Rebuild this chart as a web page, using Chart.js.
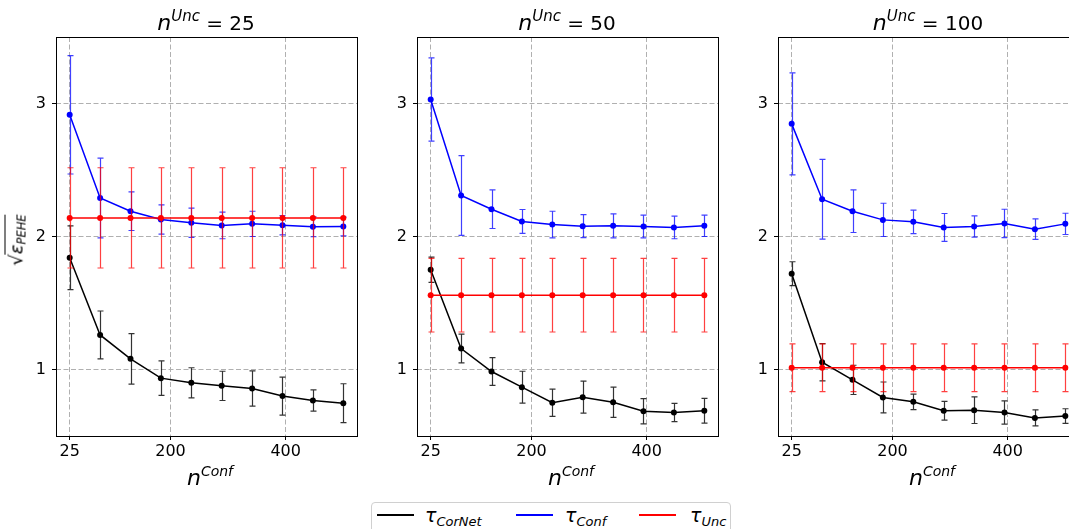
<!DOCTYPE html>
<html>
<head>
<meta charset="utf-8">
<script src="https://cdn.jsdelivr.net/npm/chart.js@4.4.0/dist/chart.umd.min.js"></script>
<style>
  body { margin: 0; width: 1069px; height: 529px; overflow: hidden; background: #fff; position: relative;
         font-family: "DejaVu Sans", sans-serif; color: #000; }
  canvas { position: absolute; top: 30px; }
  .lbl { position: absolute; white-space: nowrap; transform: translateX(-50%); font-size: 20px; line-height: 24px; }
  .lbl i { font-style: oblique; font-size: 22px; }
  .leg i { font-style: oblique; }
  .sup { font-size: 15px; font-style: oblique; position: relative; top: -9px; }
  .sub { font-size: 13px; font-style: oblique; position: relative; top: 4px; }
  .legend { position: absolute; left: 371px; top: 502px; width: 358px; height: 40px;
            border: 1px solid #d0d0d0; border-radius: 4px; background: #fff; }
  .leg { position: absolute; top: 504px; font-size: 19px; line-height: 22px; white-space: nowrap; }
  .swatch { position: absolute; top: 514px; height: 2px; width: 37px; }
  .ylab { position: absolute; left: 16px; top: 240px; transform: translate(-50%, -50%) rotate(-90deg);
          font-size: 18px; white-space: nowrap; }
  .ylab .ov { border-top: 1px solid #000; padding-top: 0px; }
  .ylab i { font-style: oblique; }
</style>
</head>
<body>
<canvas id="p25" width="336" height="436" style="left:26px"></canvas>
<canvas id="p50" width="336" height="436" style="left:387px"></canvas>
<canvas id="p100" width="336" height="436" style="left:748px"></canvas>

<div class="lbl" style="left:206px;top:11px"><i>n</i><span class="sup">Unc</span> = 25</div>
<div class="lbl" style="left:567px;top:11px"><i>n</i><span class="sup">Unc</span> = 50</div>
<div class="lbl" style="left:928px;top:11px"><i>n</i><span class="sup">Unc</span> = 100</div>

<div class="lbl" style="left:210px;top:466px"><i>n</i><span class="sup" style="font-size:14px">Conf</span></div>
<div class="lbl" style="left:571px;top:466px"><i>n</i><span class="sup" style="font-size:14px">Conf</span></div>
<div class="lbl" style="left:932px;top:466px"><i>n</i><span class="sup" style="font-size:14px">Conf</span></div>

<div class="ylab">&radic;<span class="ov"><i>ε</i><span class="sub" style="font-size:11.5px;top:3px">PEHE</span></span></div>

<div class="legend"></div>
<div class="swatch" style="left:377px;background:#000"></div>
<div class="leg" style="left:425px"><i>τ</i><span class="sub">CorNet</span></div>
<div class="swatch" style="left:516px;background:#0000ff"></div>
<div class="leg" style="left:565px"><i>τ</i><span class="sub">Conf</span></div>
<div class="swatch" style="left:639px;background:#ff0000"></div>
<div class="leg" style="left:690px"><i>τ</i><span class="sub">Unc</span></div>

<script>
// x positions (n^Conf)
const nConf = [25, 77.8, 130.6, 183.3, 236.1, 288.9, 341.7, 394.4, 447.2, 500];
const xTicks = [25, 200, 400];
const yTicks = [1, 2, 3];

// n^Unc = 25
const corNet25 = [1.84, 1.26, 1.08, 0.935, 0.90, 0.877, 0.857, 0.80, 0.767, 0.747];
const corNet25Err = [0.24, 0.18, 0.19, 0.13, 0.113, 0.11, 0.133, 0.143, 0.08, 0.146];
const conf25 = [2.915, 2.29, 2.19, 2.128, 2.103, 2.083, 2.095, 2.085, 2.073, 2.075];
const conf25Err = [0.445, 0.30, 0.145, 0.11, 0.11, 0.10, 0.095, 0.073, 0.075, 0.07];
const unc25 = [2.14, 2.14, 2.14, 2.14, 2.14, 2.14, 2.14, 2.14, 2.14, 2.14];
const unc25Err = [0.377, 0.377, 0.377, 0.377, 0.377, 0.377, 0.377, 0.377, 0.377, 0.377];

// n^Unc = 50
const corNet50 = [1.75, 1.158, 0.985, 0.867, 0.75, 0.792, 0.754, 0.686, 0.677, 0.69];
const corNet50Err = [0.095, 0.108, 0.105, 0.12, 0.103, 0.12, 0.114, 0.095, 0.069, 0.093];
const conf50 = [3.03, 2.308, 2.205, 2.113, 2.09, 2.078, 2.08, 2.075, 2.068, 2.08];
const conf50Err = [0.313, 0.30, 0.145, 0.09, 0.10, 0.087, 0.09, 0.085, 0.085, 0.08];
const unc50 = [1.559, 1.559, 1.559, 1.559, 1.559, 1.559, 1.559, 1.559, 1.559, 1.559];
const unc50Err = [0.277, 0.277, 0.277, 0.277, 0.277, 0.277, 0.277, 0.277, 0.277, 0.277];

// n^Unc = 100
const corNet100 = [1.72, 1.055, 0.922, 0.79, 0.757, 0.69, 0.694, 0.677, 0.636, 0.65];
const corNet100Err = [0.09, 0.14, 0.11, 0.116, 0.058, 0.07, 0.10, 0.087, 0.06, 0.055];
const conf100 = [2.847, 2.28, 2.19, 2.125, 2.11, 2.068, 2.075, 2.098, 2.055, 2.095];
const conf100Err = [0.383, 0.30, 0.16, 0.125, 0.088, 0.105, 0.08, 0.107, 0.077, 0.08];
const unc100 = [1.013, 1.013, 1.013, 1.013, 1.013, 1.013, 1.013, 1.013, 1.013, 1.013];
const unc100Err = [0.18, 0.18, 0.18, 0.18, 0.18, 0.18, 0.18, 0.18, 0.18, 0.18];

const FONT = '"DejaVu Sans", sans-serif';

// vertical error bars with caps, drawn just under each dataset's line
const errorBars = {
  id: 'errorBars',
  beforeDatasetDraw(chart, args) {
    const ds = chart.data.datasets[args.index];
    if (!ds.errors) return;
    const xs = chart.scales.x, ys = chart.scales.y, ctx = chart.ctx;
    ctx.save();
    ctx.strokeStyle = ds.errorColor;
    ctx.lineWidth = 1.2;
    ds.data.forEach((p, i) => {
      const px = Math.round(xs.getPixelForValue(p.x)) + 0.5;
      const top = ys.getPixelForValue(p.y + ds.errors[i]);
      const bot = ys.getPixelForValue(p.y - ds.errors[i]);
      ctx.beginPath();
      ctx.moveTo(px, top); ctx.lineTo(px, bot);
      ctx.moveTo(px - 3, top); ctx.lineTo(px + 3, top);
      ctx.moveTo(px - 3, bot); ctx.lineTo(px + 3, bot);
      ctx.stroke();
    });
    ctx.restore();
  }
};

const frame = {
  id: 'frame',
  afterDraw(chart) {
    const { left, top, right, bottom } = chart.chartArea;
    const ctx = chart.ctx;
    ctx.save();
    ctx.strokeStyle = '#000';
    ctx.lineWidth = 1;
    ctx.strokeRect(Math.round(left) + 0.5, Math.round(top) + 0.5, Math.round(right - left), Math.round(bottom - top));
    ctx.restore();
  }
};

function series(label, ys, errs, color, errColor, order) {
  return {
    label,
    data: nConf.map((x, i) => ({ x, y: ys[i] })),
    errors: errs,
    errorColor: errColor,
    borderColor: color,
    backgroundColor: color,
    borderWidth: 1.5,
    pointRadius: 3,
    pointBorderWidth: 0,
    tension: 0,
    order
  };
}

const gridOpts = { color: '#b0b0b0', lineWidth: 1, tickLength: 4,
                   tickColor: '#000', tickBorderDash: [], tickWidth: 1 };

function makePanel(id, corNet, corNetErr, conf, confErr, unc, uncErr) {
  new Chart(document.getElementById(id), {
    type: 'line',
    data: {
      datasets: [
        series('τ_CorNet', corNet, corNetErr, '#000000', 'rgba(0,0,0,0.8)', 3),
        series('τ_Conf', conf, confErr, '#0000ff', 'rgba(0,0,255,0.75)', 2),
        series('τ_Unc', unc, uncErr, '#ff0000', 'rgba(255,0,0,0.75)', 1)
      ]
    },
    options: {
      responsive: false,
      animation: false,
      events: [],
      layout: { padding: { left: 0, top: 7, right: 5, bottom: 0 } },
      plugins: { legend: { display: false }, tooltip: { enabled: false } },
      scales: {
        x: {
          type: 'linear',
          min: 1.25,
          max: 523.75,
          afterBuildTicks: s => { s.ticks = xTicks.map(v => ({ value: v })); },
          afterFit: s => { s.height = 30; s.paddingLeft = 0; s.paddingRight = 0; },
          grid: gridOpts,
          border: { display: false, dash: [5, 2.5] },
          ticks: { color: '#000', font: { family: FONT, size: 16 }, padding: 2, maxRotation: 0 }
        },
        y: {
          min: 0.5,
          max: 3.5,
          afterBuildTicks: s => { s.ticks = yTicks.map(v => ({ value: v })); },
          afterFit: s => { s.width = 30; s.paddingTop = 0; s.paddingBottom = 0; },
          grid: gridOpts,
          border: { display: false, dash: [5, 2.5] },
          ticks: { color: '#000', font: { family: FONT, size: 16 }, padding: 6 }
        }
      }
    },
    plugins: [errorBars, frame]
  });
}

makePanel('p25', corNet25, corNet25Err, conf25, conf25Err, unc25, unc25Err);
makePanel('p50', corNet50, corNet50Err, conf50, conf50Err, unc50, unc50Err);
makePanel('p100', corNet100, corNet100Err, conf100, conf100Err, unc100, unc100Err);
</script>
</body>
</html>
